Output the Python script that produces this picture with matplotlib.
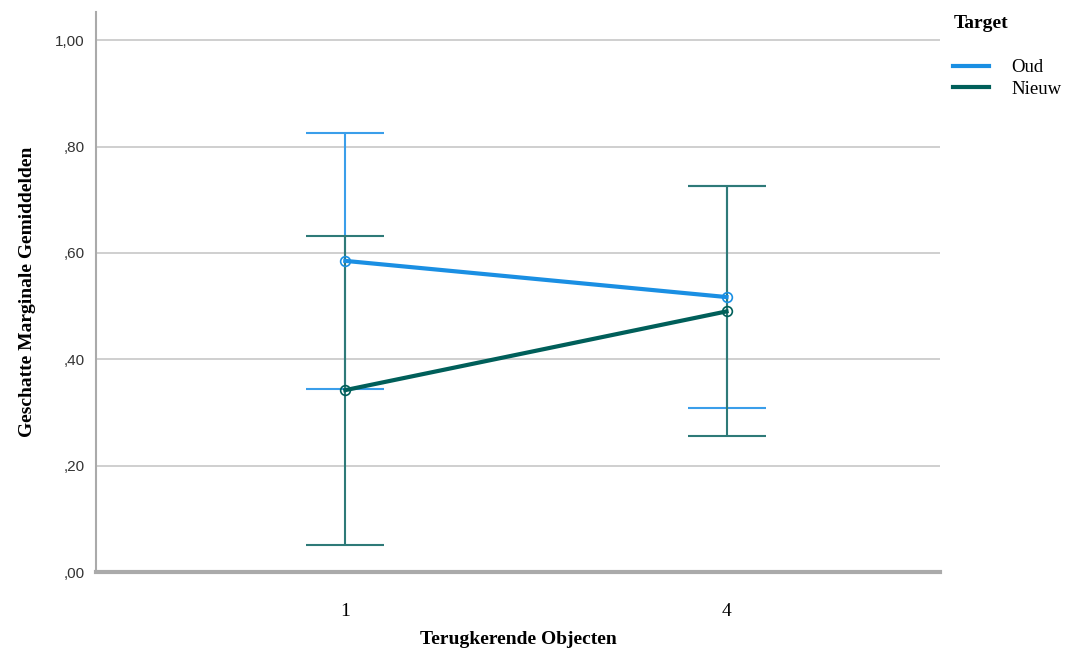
import matplotlib.pyplot as plt
import numpy as np

categories = ['1', '4']
series = ['Oud', 'Nieuw']
means = {'Oud': [0.585, 0.517], 'Nieuw': [0.342, 0.490]}
lower = {'Oud': [0.345, 0.308], 'Nieuw': [0.050, 0.255]}
upper = {'Oud': [0.825, 0.725], 'Nieuw': [0.632, 0.726]}
colors = {'Oud': '#1a8fe3', 'Nieuw': '#005f5a'}
err_colors = {'Oud': '#3a9eea', 'Nieuw': '#2e7a78'}
yticks = [0.0, 0.2, 0.4, 0.6, 0.8, 1.0]
ytick_labels = [',00', ',20', ',40', ',60', ',80', '1,00']

fig = plt.figure(figsize=(10.7, 6.55), dpi=100)
ax = fig.add_axes([96 / 1070, 1 - 572 / 655, (940 - 96) / 1070, (572 - 12) / 655])

x = np.arange(len(categories))
for s in series:
    m = np.array(means[s])
    lo = m - np.array(lower[s])
    hi = np.array(upper[s]) - m
    ax.errorbar(x, m, yerr=[lo, hi], fmt='none', ecolor=err_colors[s],
                elinewidth=1.5, capsize=28, capthick=1.5, zorder=3)
for s in series:
    ax.plot(x, means[s], color=colors[s], lw=3, marker='o', ms=7,
            mfc='none', mec=colors[s], mew=1.2, label=s, zorder=4)

ax.set_xlim(-0.654, 1.56)
ax.set_ylim(0, 1.053)
ax.set_yticks(yticks)
ax.set_yticklabels(ytick_labels, family='Liberation Sans', fontsize=11, color='#333333')
ax.set_xticks(x)
ax.set_xticklabels(categories, family='Liberation Serif', fontsize=14)
ax.tick_params(axis='y', length=0, pad=8)
ax.tick_params(axis='x', length=0, pad=22)
ax.grid(axis='y', color='#cccccc', lw=1.3)
ax.set_axisbelow(True)
for sp in ['top', 'right']:
    ax.spines[sp].set_visible(False)
ax.spines['left'].set_color('#aaaaaa')
ax.spines['left'].set_linewidth(1.5)
ax.spines['bottom'].set_color('#aaaaaa')
ax.spines['bottom'].set_linewidth(3)

ax.set_xlabel('Terugkerende Objecten', family='Liberation Serif', fontweight='bold',
              fontsize=14, labelpad=8)
ax.set_ylabel('Geschatte Marginale Gemiddelden', family='Liberation Serif',
              fontweight='bold', fontsize=14, labelpad=14)

fig.text(954 / 1070, 1 - 23 / 655, 'Target', family='Liberation Serif', fontweight='bold',
         fontsize=14, va='center', ha='left')
leg = ax.legend(loc='upper left', bbox_to_anchor=(953 / 1070, 1 - 59 / 655),
                bbox_transform=fig.transFigure, frameon=False,
                prop={'family': 'Liberation Serif', 'size': 13.5},
                handlelength=1.9, handletextpad=1.2, labelspacing=0.25, borderaxespad=0,
                borderpad=0)
for h in leg.legend_handles:
    h.set_marker('')

fig.savefig('out.png', dpi=100)
